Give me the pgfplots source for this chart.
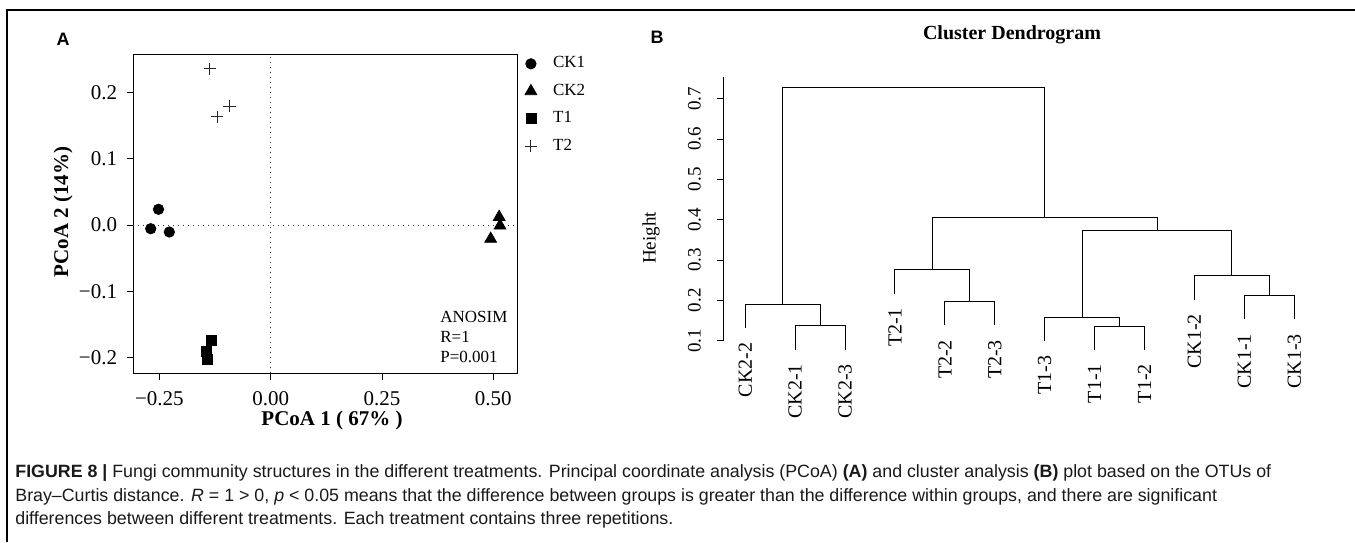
\documentclass[border=0pt]{standalone}
\usepackage{pgfplots}
\pgfplotsset{compat=1.18}
\usepackage{fontspec}
\setmainfont{Liberation Serif}
\newfontfamily\capfont{Liberation Sans}
\begin{document}
\begin{tikzpicture}
\useasboundingbox (0,0) rectangle (677.5pt,271pt);
\draw[line width=0.6pt] (3.5pt,0pt) -- (3.5pt,266pt) -- (677.5pt,266pt);

% ---------- Panel A ----------
\begin{axis}[
  at={(66.65pt,84.35pt)}, anchor=south west, scale only axis,
  width=192pt, height=159.5pt,
  xmin=-0.3086, xmax=0.5538, ymin=-0.2237, ymax=0.2575,
  xtick={-0.25,0,0.25,0.5}, xticklabels={−0.25,0.00,0.25,0.50},
  ytick={-0.2,-0.1,0,0.1,0.2}, yticklabels={−0.2,−0.1,0.0,0.1,0.2},
  tick align=outside, tick pos=left,
  major tick length=3.4pt,
  every tick/.style={black, line width=0.5pt},
  axis line style={line width=0.5pt},
  ticklabel style={font=\fontsize{10.5}{12}\selectfont},
  yticklabel shift=1.2pt, xticklabel shift=2pt,
  clip=false,
  legend style={draw=none, fill=none, at={(1,1)}, anchor=north west,
    xshift=3.5pt, yshift=1pt, inner sep=0pt,
    font=\fontsize{8.5}{9}\selectfont, row sep=2.6pt, cells={anchor=west},
    /tikz/every odd column/.append style={column sep=6pt}},
  legend image code/.code={\draw[#1] plot coordinates {(0pt,0pt)};},
]
\draw[dotted, line width=0.5pt, black!80] (axis cs:0,-0.2237) -- (axis cs:0,0.2575);
\draw[dotted, line width=0.5pt, black!80] (axis cs:-0.3086,0) -- (axis cs:0.5538,0);
\addplot[only marks, mark=*, mark size=2.6pt, black] coordinates {
  (-0.252,0.0237) (-0.2695,-0.0056) (-0.2277,-0.0106)};
\addlegendentry{CK1}
\addplot[only marks, mark=triangle*, mark size=3.4pt, black] coordinates {
  (0.513,0.012) (0.515,-0.001) (0.494,-0.021)};
\addlegendentry{CK2}
\addplot[only marks, mark=square*, mark size=2.5pt, black] coordinates {
  (-0.1325,-0.1745) (-0.145,-0.191) (-0.142,-0.2026)};
\addlegendentry{T1}
\addplot[only marks, mark=+, mark size=3.1pt, black!85, mark options={line width=0.45pt}] coordinates {
  (-0.137,0.2357) (-0.093,0.1795) (-0.120,0.163)};
\addlegendentry{T2}
\end{axis}

\node[font=\capfont\bfseries\fontsize{9}{10}\selectfont] at (31.5pt,251.5pt) {A};
\node[rotate=90, font=\bfseries\fontsize{10.5}{12}\selectfont] at (31.5pt,165pt) {PCoA 2 (14\%)};
\node[font=\bfseries\fontsize{10.5}{12}\selectfont] at (166pt,61pt) {PCoA 1 ( 67\% )};
\node[anchor=base west, inner sep=0pt, font=\fontsize{8.5}{10}\selectfont] at (220pt,110pt) {ANOSIM};
\node[anchor=base west, inner sep=0pt, font=\fontsize{8.5}{10}\selectfont] at (220pt,100pt) {R=1};
\node[anchor=base west, inner sep=0pt, font=\fontsize{8.5}{10}\selectfont] at (220pt,90pt) {P=0.001};

% ---------- Panel B ----------
\begin{axis}[
  at={(361.65pt,100.65pt)}, anchor=south west, scale only axis,
  width=296.45pt, height=131.6pt,
  xmin=0.56, xmax=12.44, ymin=0.1, ymax=0.7526,
  axis x line=none, axis y line*=left,
  axis line style={line width=0.5pt},
  ytick={0.1,0.2,0.3,0.4,0.5,0.6,0.7},
  yticklabels={0.1,0.2,0.3,0.4,0.5,0.6,0.7},
  tick align=outside, major tick length=3.35pt,
  every tick/.style={black, line width=0.5pt},
  yticklabel style={rotate=90, anchor=south, font=\fontsize{9.5}{11}\selectfont},
  yticklabel shift=4.3pt,
  clip=false, unbounded coords=jump,
]
\addplot[black, line width=0.5pt] coordinates {
  (2,0.078) (2,0.137) (3,0.137) (3,0.078) (3,nan)
  (1,0.131) (1,0.190) (2.5,0.190) (2.5,0.137) (2.5,nan)
  (5,0.1377) (5,0.1967) (6,0.1967) (6,0.1377) (6,nan)
  (4,0.217) (4,0.276) (5.5,0.276) (5.5,0.1967) (5.5,nan)
  (8,0.0774) (8,0.1364) (9,0.1364) (9,0.0774) (9,nan)
  (7,0.099) (7,0.158) (8.5,0.158) (8.5,0.1364) (8.5,nan)
  (11,0.1526) (11,0.2116) (12,0.2116) (12,0.1526) (12,nan)
  (10,0.202) (10,0.261) (11.5,0.261) (11.5,0.2116) (11.5,nan)
  (7.75,0.158) (7.75,0.3727) (10.75,0.3727) (10.75,0.261) (10.75,nan)
  (4.75,0.276) (4.75,0.406) (9.25,0.406) (9.25,0.3727) (9.25,nan)
  (1.75,0.190) (1.75,0.7266) (7,0.7266) (7,0.406)
};
\begin{scope}[every node/.style={rotate=90, anchor=east, inner sep=0pt, font=\fontsize{10}{12}\selectfont}]
\node at (axis cs:1,0.096) {CK2-2};
\node at (axis cs:2,0.043) {CK2-1};
\node at (axis cs:3,0.043) {CK2-3};
\node at (axis cs:4,0.182) {T2-1};
\node at (axis cs:5,0.1027) {T2-2};
\node at (axis cs:6,0.1027) {T2-3};
\node at (axis cs:7,0.064) {T1-3};
\node at (axis cs:8,0.0424) {T1-1};
\node at (axis cs:9,0.0424) {T1-2};
\node at (axis cs:10,0.167) {CK1-2};
\node at (axis cs:11,0.1176) {CK1-1};
\node at (axis cs:12,0.1176) {CK1-3};
\end{scope}
\end{axis}

\node[font=\capfont\bfseries\fontsize{9}{10}\selectfont] at (328.5pt,252.5pt) {B};
\node[font=\bfseries\fontsize{10}{12}\selectfont] at (506pt,253.5pt) {Cluster Dendrogram};
\node[rotate=90, font=\fontsize{9.5}{11}\selectfont] at (325.5pt,152pt) {Height};

% ---------- Caption ----------
\begin{scope}[every node/.style={anchor=west, inner sep=0pt, font=\capfont\fontsize{8.9}{10}\selectfont, text=black!90}]
\node at (7.5pt,34.5pt) {\textbf{FIGURE 8 |} Fungi community structures in the different treatments. Principal coordinate analysis (PCoA) \textbf{(A)} and cluster analysis \textbf{(B)} plot based on the OTUs of};
\node at (7.5pt,22.5pt) {Bray–Curtis distance. \textit{R} = 1 > 0, \textit{p} < 0.05 means that the difference between groups is greater than the difference within groups, and there are significant};
\node at (7.5pt,11pt) {differences between different treatments. Each treatment contains three repetitions.};
\end{scope}
\end{tikzpicture}
\end{document}
